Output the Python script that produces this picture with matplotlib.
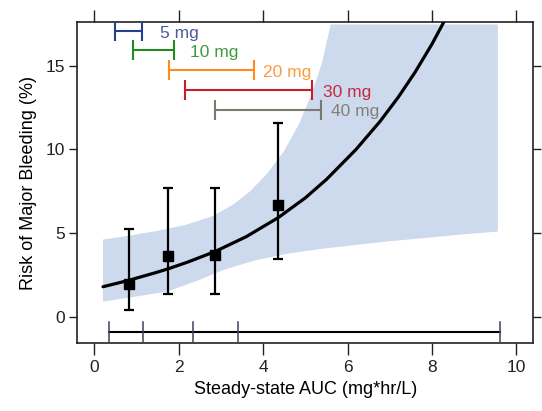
import numpy as np
import matplotlib
matplotlib.use('Agg')
import matplotlib.pyplot as plt

plt.rcParams['font.family'] = ['Liberation Sans', 'DejaVu Sans']

# observed risk by exposure group (mean, lower, upper)
obs_x = [0.82, 1.75, 2.87, 4.36]
obs_y = [1.93, 3.64, 3.68, 6.68]
obs_lo = [0.40, 1.37, 1.37, 3.42]
obs_hi = [5.22, 7.71, 7.71, 11.57]

# model curve
curve_x = [0.21, 0.80, 1.48, 1.75, 2.20, 2.86, 3.60, 4.36, 5.00, 5.50, 6.20, 6.77, 7.20, 7.60, 8.00, 8.31]
curve_y = [1.78, 2.15, 2.64, 2.85, 3.24, 3.88, 4.77, 5.91, 7.09, 8.19, 9.98, 11.66, 13.10, 14.60, 16.28, 17.74]

# confidence band
band_up_x = [0.21, 0.80, 1.50, 2.20, 2.80, 3.30, 3.70, 4.10, 4.50, 4.85, 5.15, 5.40, 5.60, 9.56]
band_up_y = [4.60, 4.82, 5.12, 5.50, 6.00, 6.70, 7.50, 8.55, 9.90, 11.50, 13.30, 15.20, 17.45, 17.45]
band_lo_x = [0.21, 1.00, 1.72, 2.40, 3.06, 3.80, 4.63, 5.40, 6.21, 7.00, 7.79, 8.70, 9.56]
band_lo_y = [0.89, 1.20, 1.49, 2.10, 2.78, 3.35, 3.78, 4.05, 4.28, 4.50, 4.68, 4.90, 5.08]

# AUC ranges per dose
doses = ['5 mg', '10 mg', '20 mg', '30 mg', '40 mg']
dose_lo = [0.49, 0.91, 1.77, 2.15, 2.86]
dose_hi = [1.14, 1.89, 3.79, 5.15, 5.38]
dose_y = [17.05, 15.92, 14.72, 13.52, 12.37]
bar_colors = ['#24418f', '#1e8c1e', '#ff8a1e', '#c81e28', '#7a7a6e']
text_colors = ['#4a5a9a', '#3d9a3d', '#ff9a3c', '#c8283c', '#808078']
text_offset = [13, 11.5, 6.5, 8, 7]

# overall AUC range with group cut points
auc_cuts = [0.36, 1.15, 2.35, 3.41, 9.62]
auc_bar_y = -0.93

fig = plt.figure(figsize=(5.42, 4.11), dpi=100)
ax = fig.add_axes([0.1426, 0.1647, 0.8414, 0.7818])

bx = np.array(band_up_x + band_lo_x[::-1])
by = np.array(band_up_y + band_lo_y[::-1])
ax.fill(bx, by, color='#cdd9ed', lw=0, zorder=1)

ax.plot(curve_x, curve_y, color='black', lw=2.3, solid_capstyle='round',
        solid_joinstyle='round', zorder=3)

yerr = [np.subtract(obs_y, obs_lo), np.subtract(obs_hi, obs_y)]
ax.errorbar(obs_x, obs_y, yerr=yerr, fmt='s', color='black', ms=7,
            elinewidth=1.6, capsize=3.5, capthick=1.6, zorder=4)

for lab, lo, hi, y, bc, tc, off in zip(doses, dose_lo, dose_hi, dose_y,
                                        bar_colors, text_colors, text_offset):
    ax.errorbar([(lo + hi) / 2], [y], xerr=[[(hi - lo) / 2], [(hi - lo) / 2]],
                fmt='none', ecolor=bc, elinewidth=1.5, capsize=7, capthick=1.5, zorder=5)
    ax.annotate(lab, xy=(hi, y), xytext=(off, -1.5), textcoords='offset points',
                color=tc, fontsize=12.5, va='center', ha='left', zorder=6)

ax.plot([auc_cuts[0], auc_cuts[-1]], [auc_bar_y, auc_bar_y], color='black', lw=1.5, zorder=3)
for c in auc_cuts:
    ax.plot([c, c], [-0.3, -1.6], color='#4a3b5c', lw=1.1, zorder=3)

ax.set_xlim(-0.4, 10.4)
ax.set_ylim(-1.6, 17.6)
ax.set_xticks([0, 2, 4, 6, 8, 10])
ax.set_yticks([0, 5, 10, 15])
ax.tick_params(axis='x', direction='out', length=8.5, width=1, top=True,
               labelsize=12.5, colors='#222222')
ax.tick_params(axis='y', direction='out', length=5.5, width=1, right=True,
               labelsize=12.5, colors='#222222')
for s in ax.spines.values():
    s.set_linewidth(1.2)
    s.set_color('#222222')

ax.set_xlabel('Steady-state AUC (mg*hr/L)', fontsize=13, labelpad=4)
ax.set_ylabel('Risk of Major Bleeding (%)', fontsize=13, labelpad=6)

fig.savefig('out.png', dpi=100)
